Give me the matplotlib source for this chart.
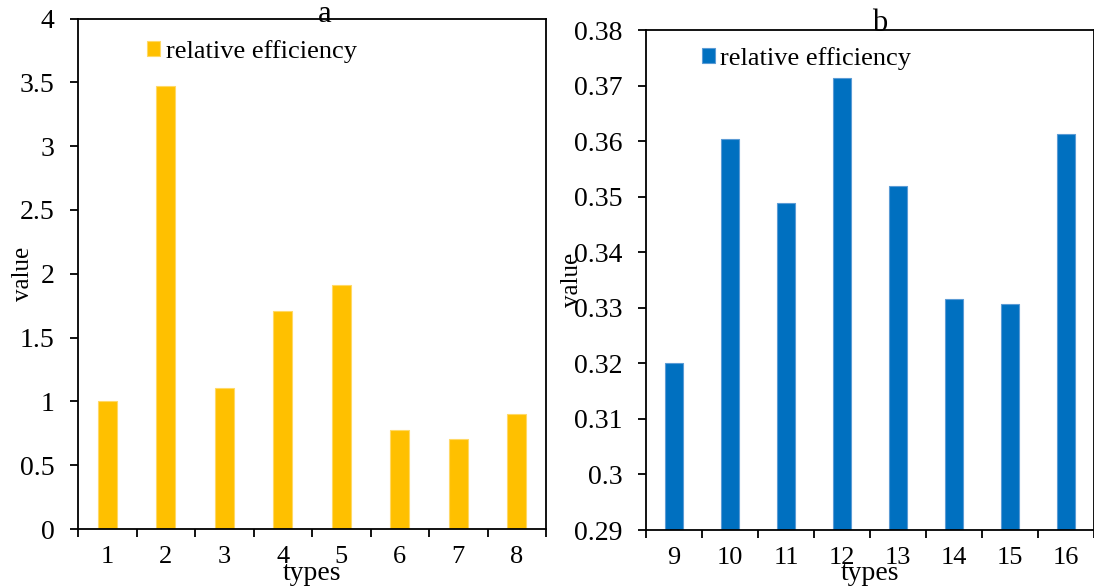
import matplotlib
matplotlib.use("Agg")
import matplotlib.pyplot as plt
import numpy as np

plt.rcParams['font.family'] = ['Liberation Serif', 'DejaVu Serif']

# panel a
types_a = ['1', '2', '3', '4', '5', '6', '7', '8']
eff_a = [1.00, 3.47, 1.105, 1.71, 1.91, 0.776, 0.705, 0.90]

# panel b
types_b = ['9', '10', '11', '12', '13', '14', '15', '16']
eff_b = [0.3201, 0.3604, 0.3488, 0.3714, 0.3520, 0.3316, 0.3307, 0.3613]

fig = plt.figure(figsize=(10.94, 5.88), dpi=100)
ax1 = fig.add_axes([0.0713, 0.1003, 0.4278, 0.8682])
ax2 = fig.add_axes([0.5905, 0.0986, 0.4095, 0.8503])


def draw_panel(ax, labels, vals, color, edge, ylim, yticks, title, title_xy,
               ylab_x, leg_xy):
    x = np.arange(len(labels))
    ax.bar(x, vals, width=0.32, color=color, edgecolor=edge, linewidth=0.8,
           label='relative efficiency', zorder=2)
    ax.set_xlim(-0.5, len(labels) - 0.5)
    ax.set_ylim(*ylim)
    ax.set_yticks(yticks)
    ax.set_yticklabels([f'{t:g}' for t in yticks])
    # boundary ticks between categories, labels at centres
    ax.set_xticks(np.arange(len(labels) + 1) - 0.5)
    ax.set_xticklabels([])
    ax.set_xticks(x, minor=True)
    ax.set_xticklabels(labels, minor=True)
    ax.tick_params(axis='x', which='major', direction='out', length=6, width=1.3)
    ax.tick_params(axis='x', which='minor', length=0, pad=12, labelsize=19)
    ax.tick_params(axis='y', direction='out', length=6, width=1.3, pad=11,
                   labelsize=20)
    for s in ax.spines.values():
        s.set_linewidth(1.3)
    ax.set_xlabel('types', fontsize=20)
    ax.set_ylabel('value', fontsize=18)
    ax.xaxis.set_label_coords(0.5, -0.062)
    ax.yaxis.set_label_coords(ylab_x, 0.5)
    ax.text(title_xy[0], title_xy[1], title, transform=ax.transAxes,
            ha='center', va='baseline', fontsize=22)
    ax.legend(loc='center left', bbox_to_anchor=leg_xy, frameon=False,
              fontsize=19, handlelength=0.5, handleheight=0.5,
              handletextpad=0.2, borderpad=0, borderaxespad=0)


draw_panel(ax1, types_a, eff_a, '#FFC000', '#FFD966', (0, 4),
           [0, 0.5, 1, 1.5, 2, 2.5, 3, 3.5, 4], 'a', (0.528, 0.993),
           -0.095, (0.148, 0.936))
draw_panel(ax2, types_b, eff_b, '#0070C0', '#5B9BD5', (0.29, 0.38),
           [0.29, 0.30, 0.31, 0.32, 0.33, 0.34, 0.35, 0.36, 0.37, 0.38], 'b',
           (0.522, 0.998), -0.14, (0.125, 0.944))

fig.savefig('out.png', dpi=100)
